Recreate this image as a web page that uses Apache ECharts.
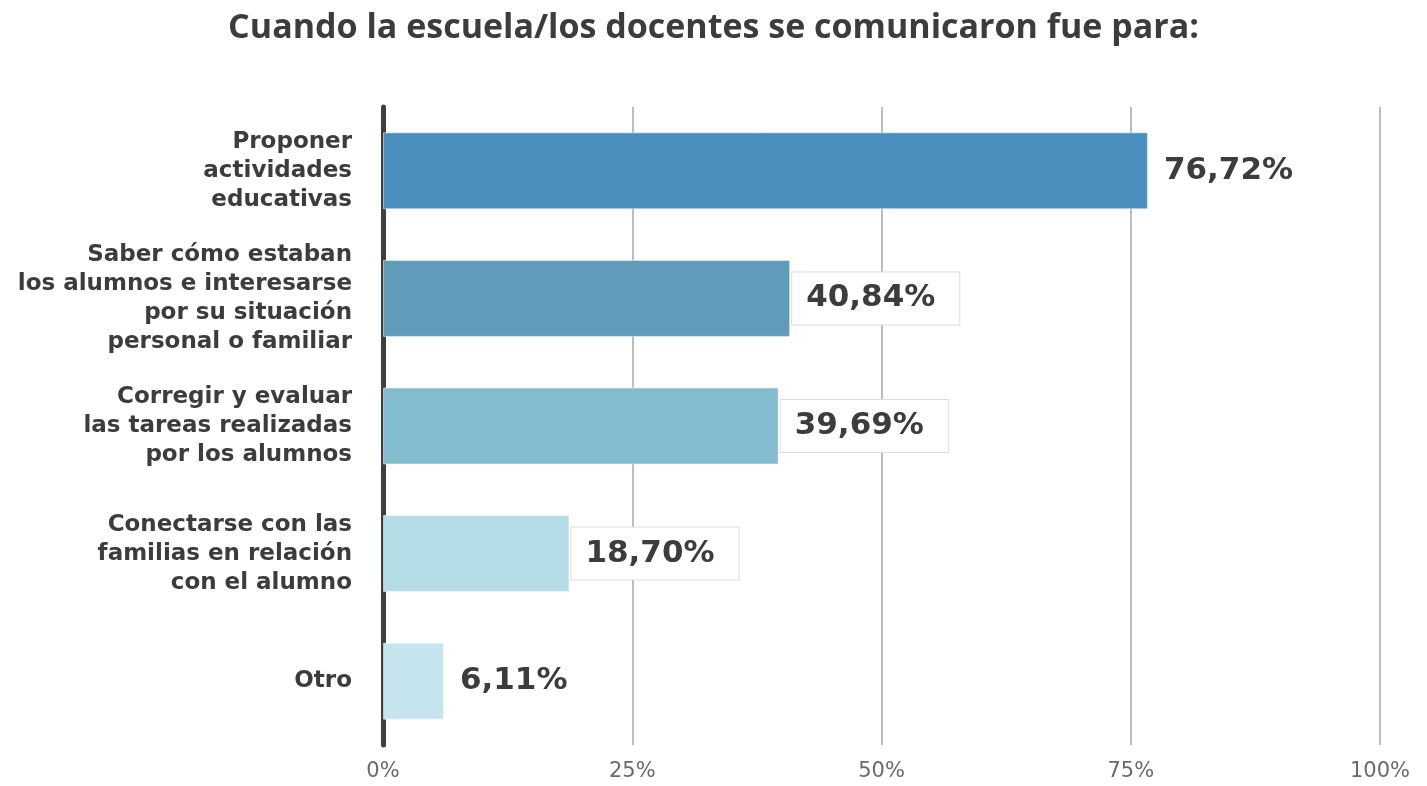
<!DOCTYPE html>
<html>
<head>
<meta charset="utf-8">
<script src="https://cdn.jsdelivr.net/npm/echarts@6/dist/echarts.min.js"></script>
<style>html,body{margin:0;padding:0;background:#fff}#c{width:1427px;height:786px}</style>
</head>
<body>
<div id="c"></div>
<script>
const titleText = 'Cuando la escuela/los docentes se comunicaron fue para:';
const categories = [
  'Proponer\nactividades\neducativas',
  'Saber cómo estaban\nlos alumnos e interesarse\npor su situación\npersonal o familiar',
  'Corregir y evaluar\nlas tareas realizadas\npor los alumnos',
  'Conectarse con las\nfamilias en relación\ncon el alumno',
  'Otro'
];
const values = [76.72, 40.84, 39.69, 18.70, 6.11];
const barColors = ['#4a8fbe', '#609cba', '#83bccf', '#b4dde7', '#c5e5ee'];
const boxedLabel = [false, true, true, true, false];
const xTicks = [0, 25, 50, 75, 100];

const chart = echarts.init(document.getElementById('c'), null, {renderer: 'canvas'});
const fmt = v => v.toFixed(2).replace('.', ',') + '%';

const data = values.map((v, i) => {
  const lbl = boxedLabel[i]
    ? {distance: 2, backgroundColor: '#fff', borderColor: '#dcdcdc', borderWidth: 1, padding: [9, 24, 9, 14]}
    : {distance: 16};
  return {value: v, itemStyle: {color: barColors[i], borderColor: 'rgba(255,255,255,0.5)', borderWidth: 1}, label: lbl};
});

chart.setOption({
  animation: false,
  backgroundColor: '#fff',
  title: {
    text: titleText,
    left: 'center',
    top: 6,
    textStyle: {fontFamily: 'Open Sans', fontWeight: 'bold', fontSize: 34, color: '#3c3c3c'}
  },
  grid: {left: 383, right: 47, top: 107, bottom: 41, containLabel: false},
  xAxis: {
    type: 'value',
    min: xTicks[0],
    max: xTicks[xTicks.length - 1],
    interval: 25,
    axisLine: {show: false},
    axisTick: {show: false},
    splitLine: {show: true, lineStyle: {color: '#bdbdbd', width: 2}},
    axisLabel: {formatter: '{value}%', margin: 16, fontFamily: 'DejaVu Sans', fontSize: 21, color: '#6a6a6a'}
  },
  yAxis: {
    type: 'category',
    inverse: true,
    data: categories,
    axisLine: {show: true, lineStyle: {color: '#3f3f3f', width: 5}},
    axisTick: {show: false},
    axisLabel: {margin: 31, fontFamily: 'DejaVu Sans', fontWeight: 'bold', fontSize: 23, lineHeight: 29, color: '#3c3c3c', align: 'right'}
  },
  series: [{
    type: 'bar',
    data: data,
    barWidth: 77,
    z: 3,
    label: {
      show: true,
      position: 'right',
      formatter: p => fmt(p.value),
      fontFamily: 'DejaVu Sans',
      fontWeight: 'bold',
      fontSize: 31,
      lineHeight: 34,
      color: '#3c3c3c'
    }
  }]
});
</script>
</body>
</html>
